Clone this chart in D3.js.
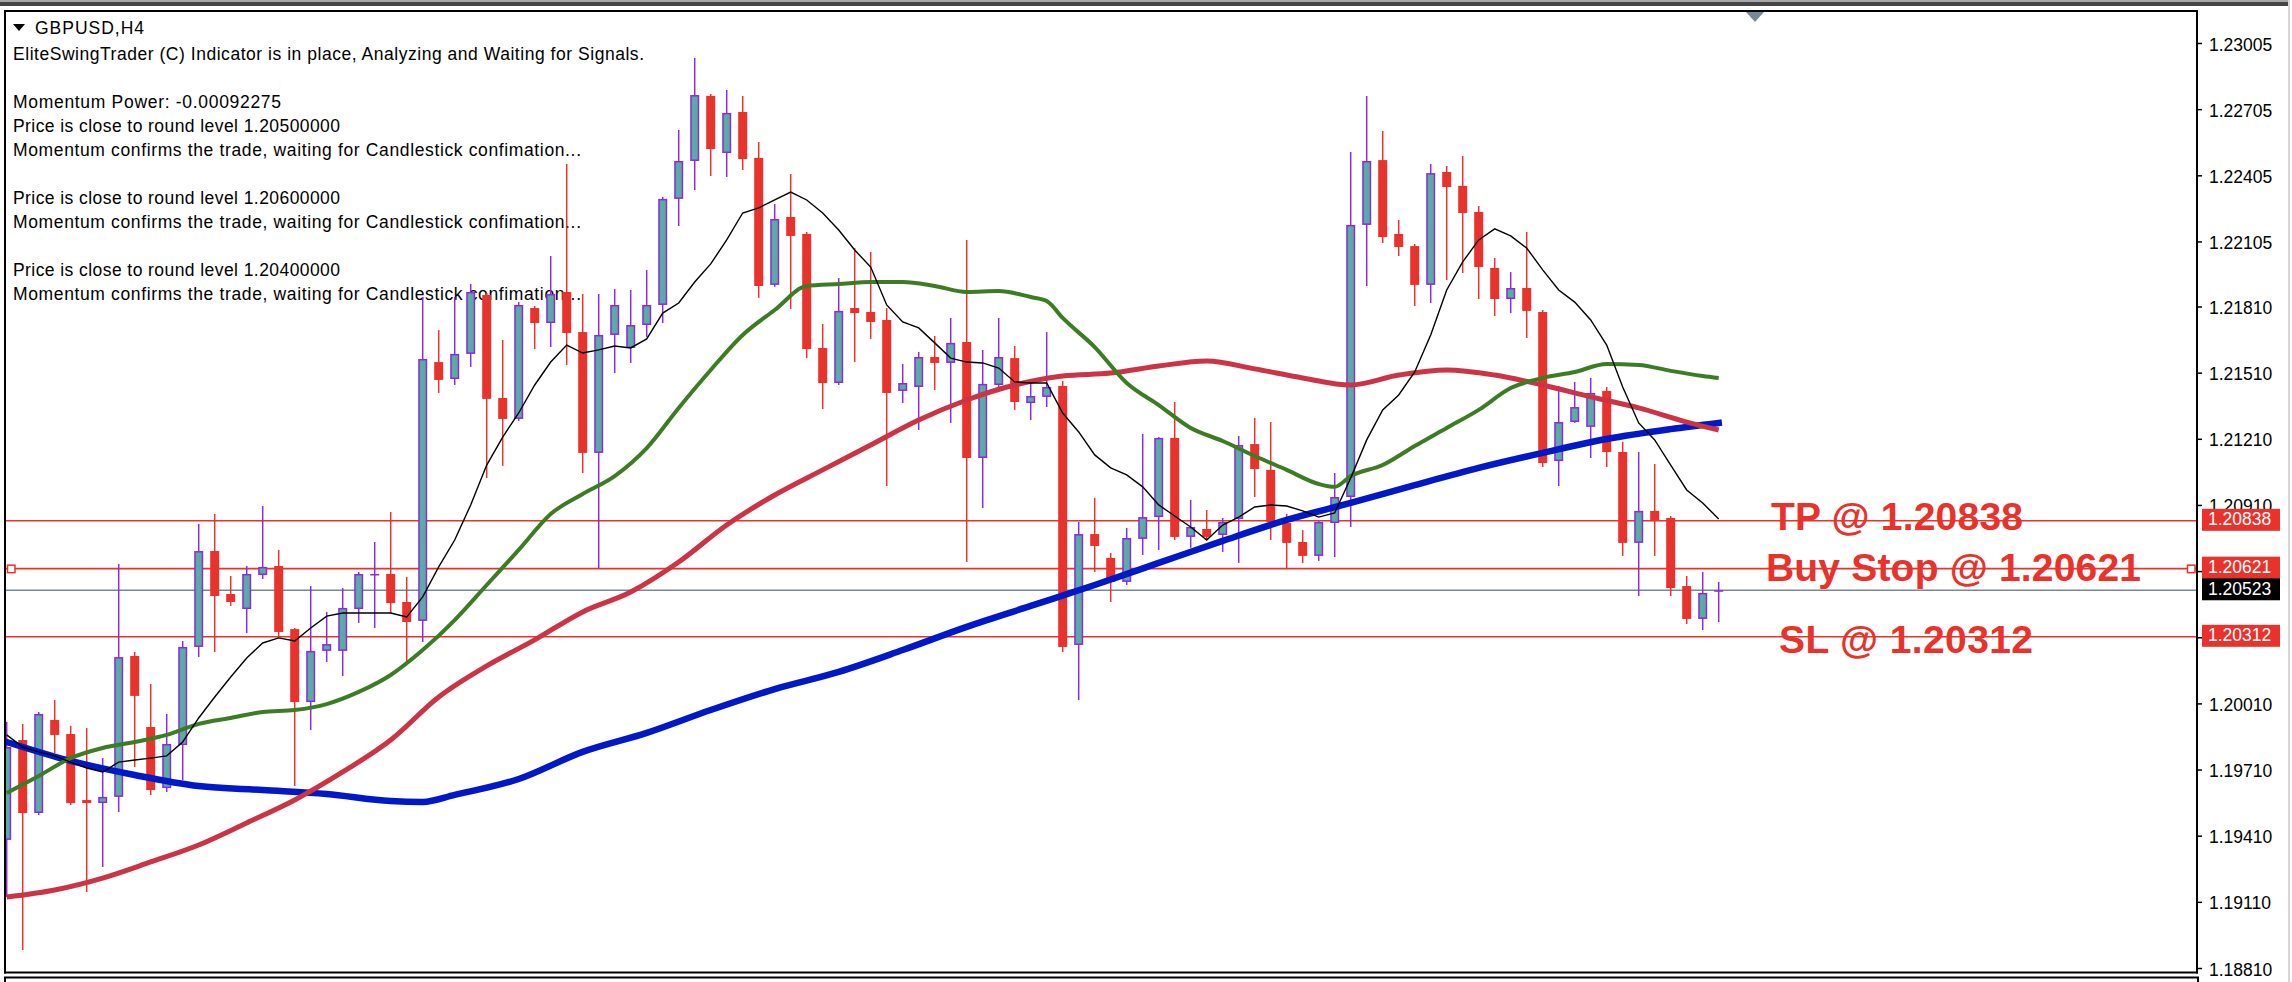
<!DOCTYPE html>
<html><head><meta charset="utf-8">
<script src="https://cdn.jsdelivr.net/npm/d3@7"></script>
<style>html,body{margin:0;padding:0;background:#fff;overflow:hidden}</style>
</head><body>
<svg id="chart" width="2292" height="982"></svg>
<script>
// ---------------- DATA ----------------
const symbolTitle = "GBPUSD,H4";
const commentLines = [
  "EliteSwingTrader (C) Indicator is in place, Analyzing and Waiting for Signals.",
  "",
  "Momentum Power: -0.00092275",
  "Price is close to round level 1.20500000",
  "Momentum confirms the trade, waiting for Candlestick confimation...",
  "",
  "Price is close to round level 1.20600000",
  "Momentum confirms the trade, waiting for Candlestick confimation...",
  "",
  "Price is close to round level 1.20400000",
  "Momentum confirms the trade, waiting for Candlestick confimation..."
];
const tickValues = [1.23005,1.22705,1.22405,1.22105,1.21810,1.21510,1.21210,1.20910,1.20610,1.20310,1.20010,1.19710,1.19410,1.19110,1.18810];

const opens = [1.19391,1.19844,1.19513,1.19935,1.19871,1.19572,1.19558,1.19586,1.20225,1.19903,
1.19626,1.19821,1.20266,1.20701,1.20506,1.20438,1.20592,1.20633,1.20347,1.20016,
1.20248,1.20248,1.20438,1.20592,1.20597,1.20470,1.20384,1.21558,1.21481,1.21595,
1.21862,1.21395,1.21300,1.21803,1.21735,1.21876,1.21694,1.21146,1.21681,1.21622,
1.21726,1.21817,1.22298,1.22470,1.22765,1.22506,1.22692,1.22484,1.21908,1.22216,
1.22139,1.21622,1.21463,1.21803,1.21785,1.21749,1.21427,1.21445,1.21581,1.21554,
1.21649,1.21123,1.21454,1.21576,1.21372,1.21400,1.21450,1.20275,1.20778,1.20670,
1.20561,1.20756,1.20855,1.21214,1.20765,1.20801,1.20774,1.20846,1.21186,1.21069,
1.20828,1.20742,1.20679,1.20828,1.20946,1.22180,1.22474,1.22139,1.22084,1.21908,
1.22420,1.22357,1.22239,1.21985,1.21844,1.21894,1.21785,1.21109,1.21286,1.21264,
1.21427,1.21150,1.20738,1.20883,1.20851,1.20542,1.20393,1.20520];
const highs = [1.19926,1.19917,1.19971,1.20025,1.19908,1.19898,1.19762,1.20642,1.20243,1.20098,
1.19962,1.20293,1.20824,1.20869,1.20588,1.20633,1.20905,1.20706,1.20352,1.20542,
1.20425,1.20533,1.20606,1.20742,1.20878,1.20583,1.21853,1.21703,1.21853,1.21912,
1.21871,1.21658,1.21830,1.21812,1.22039,1.22456,1.21867,1.21867,1.21889,1.21885,
1.21976,1.22307,1.22610,1.22937,1.22774,1.22792,1.22765,1.22556,1.22275,1.22411,
1.22148,1.21731,1.21939,1.22075,1.22057,1.21803,1.21549,1.21604,1.21676,1.21758,
1.22112,1.21613,1.21758,1.21631,1.21463,1.21694,1.21472,1.20833,1.20942,1.20692,
1.20806,1.21232,1.21218,1.21377,1.20933,1.20887,1.20851,1.21223,1.21304,1.21286,
1.20869,1.20796,1.20837,1.21055,1.22511,1.22765,1.22606,1.22202,1.22093,1.22456,
1.22447,1.22493,1.22266,1.22030,1.21966,1.22148,1.21794,1.21450,1.21468,1.21486,
1.21445,1.21196,1.21150,1.21096,1.20860,1.20588,1.20606,1.20561];
const lows = [1.19132,1.18892,1.19504,1.19785,1.19549,1.19155,1.19268,1.19518,1.19722,1.19595,
1.19608,1.19663,1.20220,1.20243,1.20452,1.20329,1.20574,1.20311,1.19635,1.19889,
1.20198,1.20134,1.20375,1.20352,1.20420,1.20198,1.20288,1.21418,1.21454,1.21536,
1.21032,1.21087,1.21291,1.21617,1.21626,1.21545,1.21055,1.20624,1.21508,1.21554,
1.21672,1.21735,1.22175,1.22338,1.22402,1.22397,1.22429,1.21849,1.21899,1.21799,
1.21576,1.21345,1.21454,1.21558,1.21663,1.20996,1.21372,1.21250,1.21431,1.21282,
1.20651,1.20896,1.21440,1.21341,1.21295,1.21354,1.20243,1.20025,1.20606,1.20470,
1.20547,1.20683,1.20706,1.20751,1.20715,1.20751,1.20697,1.20647,1.20946,1.20751,
1.20624,1.20647,1.20656,1.20674,1.20810,1.21903,1.22098,1.22039,1.21812,1.21826,
1.21930,1.21962,1.21844,1.21767,1.21780,1.21667,1.21082,1.20996,1.21282,1.21123,
1.21082,1.20679,1.20497,1.20679,1.20497,1.20370,1.20343,1.20379];
const closes = [1.19812,1.19513,1.19962,1.19867,1.19558,1.19558,1.19586,1.20220,1.20044,1.19617,
1.19826,1.20266,1.20701,1.20497,1.20470,1.20597,1.20629,1.20334,1.20016,1.20248,
1.20279,1.20443,1.20597,1.20597,1.20465,1.20379,1.21572,1.21477,1.21595,1.21876,
1.21391,1.21300,1.21817,1.21735,1.21867,1.21690,1.21146,1.21681,1.21817,1.21726,
1.21817,1.22298,1.22470,1.22769,1.22524,1.22688,1.22479,1.21903,1.22207,1.22130,
1.21617,1.21463,1.21790,1.21780,1.21740,1.21418,1.21463,1.21581,1.21554,1.21645,
1.21123,1.21459,1.21581,1.21377,1.21404,1.21445,1.20266,1.20778,1.20724,1.20561,
1.20760,1.20855,1.21214,1.20765,1.20810,1.20765,1.20833,1.21182,1.21073,1.20833,
1.20738,1.20679,1.20833,1.20946,1.22180,1.22470,1.22125,1.22080,1.21908,1.22415,
1.22352,1.22234,1.21989,1.21844,1.21894,1.21790,1.21100,1.21286,1.21354,1.21418,
1.21150,1.20738,1.20883,1.20837,1.20533,1.20393,1.20511,1.20523];

// Moving averages at the listed bar indices
const blackMA = [1.19867,1.19812,1.19790,1.19772,1.19744,1.19717,1.19699,1.19744,1.19753,1.19762,
1.19772,1.19835,1.19944,1.20039,1.20130,1.20216,1.20284,1.20307,1.20293,1.20352,
1.20406,1.20420,1.20420,1.20420,1.20420,1.20402,1.20493,1.20629,1.20751,1.20910,
1.21091,1.21218,1.21327,1.21454,1.21558,1.21635,1.21599,1.21613,1.21631,1.21622,
1.21663,1.21780,1.21826,1.21921,1.22003,1.22112,1.22234,1.22257,1.22293,1.22329,
1.22293,1.22234,1.22157,1.22066,1.21989,1.21817,1.21740,1.21713,1.21645,1.21576,
1.21558,1.21554,1.21531,1.21468,1.21463,1.21463,1.21327,1.21241,1.21137,1.21078,
1.21046,1.20992,1.20910,1.20860,1.20810,1.20751,1.20819,1.20855,1.20901,1.20910,
1.20905,1.20883,1.20855,1.20874,1.21032,1.21205,1.21341,1.21409,1.21513,1.21681,
1.21885,1.22012,1.22112,1.22162,1.22130,1.22075,1.21976,1.21885,1.21830,1.21749,
1.21635,1.21445,1.21282,1.21205,1.21091,1.20978,1.20919,1.20846];
const greenIdx = [0,2,4,6,8,10,12,14,16,18,20,22,24,26,28,30,32,34,36,38,40,42,44,46,48,50,52,54,56,58,60,62,64,65,66,68,70,72,74,76,78,80,82,83,84,86,88,90,92,94,96,98,100,102,104,106,107];
const greenMA = [1.19604,1.19681,1.19762,1.19808,1.19835,1.19867,1.19917,1.19944,1.19971,1.19980,
1.20007,1.20062,1.20139,1.20252,1.20388,1.20547,1.20706,1.20869,1.20960,1.21041,
1.21168,1.21350,1.21522,1.21681,1.21794,1.21903,1.21912,1.21921,1.21921,1.21903,
1.21876,1.21880,1.21853,1.21835,1.21758,1.21626,1.21463,1.21363,1.21259,1.21200,
1.21132,1.21069,1.21005,1.20992,1.21041,1.21091,1.21177,1.21259,1.21341,1.21440,
1.21486,1.21513,1.21549,1.21545,1.21518,1.21495,1.21486];
const crimsonIdx = [0,3,6,9,12,15,18,21,24,27,30,33,36,39,42,45,48,51,54,57,60,63,66,69,72,75,78,81,84,87,90,93,96,99,102,105,107];
const crimsonMA = [1.19132,1.19164,1.19218,1.19291,1.19368,1.19468,1.19572,1.19699,1.19844,1.20039,
1.20180,1.20298,1.20425,1.20515,1.20651,1.20819,1.20955,1.21069,1.21182,1.21295,
1.21386,1.21454,1.21495,1.21508,1.21540,1.21563,1.21527,1.21486,1.21454,1.21499,
1.21522,1.21499,1.21454,1.21400,1.21350,1.21286,1.21250];
const blueIdx = [0,4,8,12,16,20,24,26,28,32,36,40,44,48,52,56,60,64,68,72,76,80,84,88,92,96,100,104,107];
const blueMA = [1.19835,1.19749,1.19685,1.19635,1.19617,1.19599,1.19567,1.19563,1.19595,1.19667,
1.19790,1.19876,1.19980,1.20075,1.20153,1.20252,1.20357,1.20452,1.20547,1.20647,
1.20747,1.20842,1.20919,1.21000,1.21078,1.21146,1.21209,1.21254,1.21282];

const levelNames = ["TP","Buy Stop","SL"];
const levelValues = [1.20838,1.20621,1.20312];
const currentPrice = 1.20523;

// ---------------- STYLE ----------------
const RED = "#e8322b", PURPLE = "#8a2be2", TEAL = "#5aaba1";
const FONT = "'Liberation Sans', Arial, sans-serif";
const svg = d3.select("#chart");
const plot = {left:5, top:11, right:2197, bottom:972.5};

const x = d3.scaleLinear().domain([0, opens.length - 1]).range([6.7, 1718.7]);
const y = d3.scaleLinear().domain([1.18810, 1.23005]).range([968, 43]);
const fmt = d3.format(".5f");

svg.append("rect").attr("width",2292).attr("height",982).attr("fill","#fff");
// window chrome
svg.append("rect").attr("x",0).attr("y",0).attr("width",2288).attr("height",2).attr("fill","#a8a8a8");
svg.append("rect").attr("x",0).attr("y",2).attr("width",2288).attr("height",4).attr("fill","#454545");
svg.append("rect").attr("x",2288).attr("y",0).attr("width",2).attr("height",982).attr("fill","#d6d6d6");

svg.append("defs").append("clipPath").attr("id","clip").append("rect")
  .attr("x",plot.left).attr("y",plot.top).attr("width",plot.right-plot.left).attr("height",plot.bottom-plot.top);

// comment text (background)
const tg = svg.append("g").attr("font-family",FONT).attr("font-size","17.5px").attr("fill","#000");
svg.append("path").attr("d","M13,24 L25,24 L19,31 Z").attr("fill","#000");
tg.append("text").attr("x",35).attr("y",33.5).text(symbolTitle).attr("textLength",109).attr("lengthAdjust","spacing");
const targetLen = {"E":631, "M":0, "P":327};
commentLines.forEach((t,k) => {
  if (!t) return;
  const el = tg.append("text").attr("x",13).attr("y",59.7 + 24*k).text(t);
  let L = null;
  if (t.startsWith("EliteSwing")) L = 631;
  else if (t.startsWith("Momentum Power")) L = 268;
  else if (t.startsWith("Price")) L = 327;
  else if (t.startsWith("Momentum confirms")) L = 568;
  if (L) el.attr("textLength",L).attr("lengthAdjust","spacing");
});

const g = svg.append("g").attr("clip-path","url(#clip)");

// horizontal levels
const hl = g.append("g");
hl.selectAll("line.lvl").data(levelValues).join("line").attr("class","lvl")
  .attr("x1",plot.left).attr("x2",plot.right).attr("y1",d=>y(d)).attr("y2",d=>y(d))
  .attr("stroke",RED).attr("stroke-width",1.6);
hl.append("line").attr("x1",plot.left).attr("x2",plot.right).attr("y1",y(currentPrice)).attr("y2",y(currentPrice))
  .attr("stroke","#778899").attr("stroke-width",1.6);

// candles
const candles = d3.range(opens.length).map(i => ({i, o:opens[i], h:highs[i], l:lows[i], c:closes[i], up: closes[i] >= opens[i]}));
const cs = g.append("g").selectAll("g").data(candles).join("g");
cs.append("line")
  .attr("x1",d=>x(d.i)).attr("x2",d=>x(d.i))
  .attr("y1",d=>y(d.h)).attr("y2",d=>y(d.l))
  .attr("stroke",d=>d.up?PURPLE:RED).attr("stroke-width",1.5);
cs.append("rect")
  .attr("x",d=> d.up ? x(d.i)-3.75 : x(d.i)-4.5)
  .attr("width",d=> d.up ? 7.5 : 9)
  .attr("y",d=> Math.min(y(d.o),y(d.c)) + (d.up?0.75:0))
  .attr("height",d=> { const h = Math.abs(y(d.o)-y(d.c)); return d.up ? Math.max(h-1.5,0.01) : Math.max(h,1.5); })
  .attr("fill",d=>d.up?TEAL:RED)
  .attr("stroke",d=>d.up?PURPLE:"none").attr("stroke-width",1.5);

// moving averages
const maLine = (idxArr, curve) => d3.line().x((d,k)=>x(idxArr[k])).y(d=>y(d)).curve(curve);
g.append("path").attr("d", maLine(blueIdx, d3.curveMonotoneX)(blueMA))
  .attr("fill","none").attr("stroke","#0018c8").attr("stroke-width",6.5).attr("stroke-linecap","square");
g.append("path").attr("d", maLine(crimsonIdx, d3.curveMonotoneX)(crimsonMA))
  .attr("fill","none").attr("stroke","#cc3344").attr("stroke-width",5);
g.append("path").attr("d", maLine(greenIdx, d3.curveMonotoneX)(greenMA))
  .attr("fill","none").attr("stroke","#3c7d23").attr("stroke-width",4);
g.append("path").attr("d", maLine(d3.range(blackMA.length), d3.curveLinear)(blackMA))
  .attr("fill","none").attr("stroke","#000").attr("stroke-width",1.4);

// buy stop square markers
const bs = levelValues[1];
[[7,0],[2187,0]].forEach(([sx]) => {
  svg.append("rect").attr("x",sx+0.5).attr("y",y(bs)-3.5).attr("width",7.5).attr("height",7.5)
    .attr("fill","#fff").attr("stroke",RED).attr("stroke-width",1.5);
});

// big level labels
const labelPos = [{x:1771, base:530},{x:1766, base:581},{x:1779, base:653}];
const labelLen = [252, 375, 254];
levelValues.forEach((v,k) => {
  svg.append("text").attr("x",labelPos[k].x).attr("y",labelPos[k].base)
    .attr("font-family",FONT).attr("font-weight","bold").attr("font-size","39px")
    .attr("fill",RED).attr("textLength",labelLen[k]).attr("lengthAdjust","spacing")
    .text(levelNames[k] + " @ " + fmt(v));
});

// price axis
const axisG = svg.append("g").attr("transform",`translate(${plot.right},0)`)
  .call(d3.axisRight(y).tickValues(tickValues).tickFormat(fmt).tickSize(5).tickPadding(7));
axisG.select(".domain").remove();
axisG.selectAll(".tick line").attr("stroke","#000").attr("stroke-width",1.5);
axisG.selectAll(".tick text").attr("font-family",FONT).attr("font-size","17.5px").attr("fill","#000")
  .attr("dy","0.4em")
  .style("display", d => [...levelValues, currentPrice].some(v => Math.abs(y(v)-y(d)) < 10) ? "none" : null);

// frame
const fr = svg.append("g").attr("stroke","#000").attr("stroke-width",2).attr("fill","none");
fr.append("line").attr("x1",4).attr("x2",2198).attr("y1",11).attr("y2",11);
fr.append("line").attr("x1",5).attr("x2",5).attr("y1",10).attr("y2",973.5);
fr.append("line").attr("x1",2197).attr("x2",2197).attr("y1",10).attr("y2",973.5);
fr.append("line").attr("x1",4).attr("x2",2198).attr("y1",972.5).attr("y2",972.5);
fr.append("path").attr("d","M5,982 L5,977.5 L2198,977.5 L2198,982");

// chart shift marker
svg.append("path").attr("d","M1746,12 L1764,12 L1755,22 Z").attr("fill","#778899");

// price boxes on axis
const boxes = [...levelValues.map(v=>({v, fill:RED})), {v:currentPrice, fill:"#000"}];
boxes.forEach(b => {
  svg.append("rect").attr("x",2202).attr("y",y(b.v)-12).attr("width",78).attr("height",22).attr("fill",b.fill);
  svg.append("text").attr("x",2208).attr("y",y(b.v)+4.5).attr("font-family",FONT).attr("font-size","17.5px")
    .attr("fill","#fff").text(fmt(b.v));
});
</script>
</body></html>
